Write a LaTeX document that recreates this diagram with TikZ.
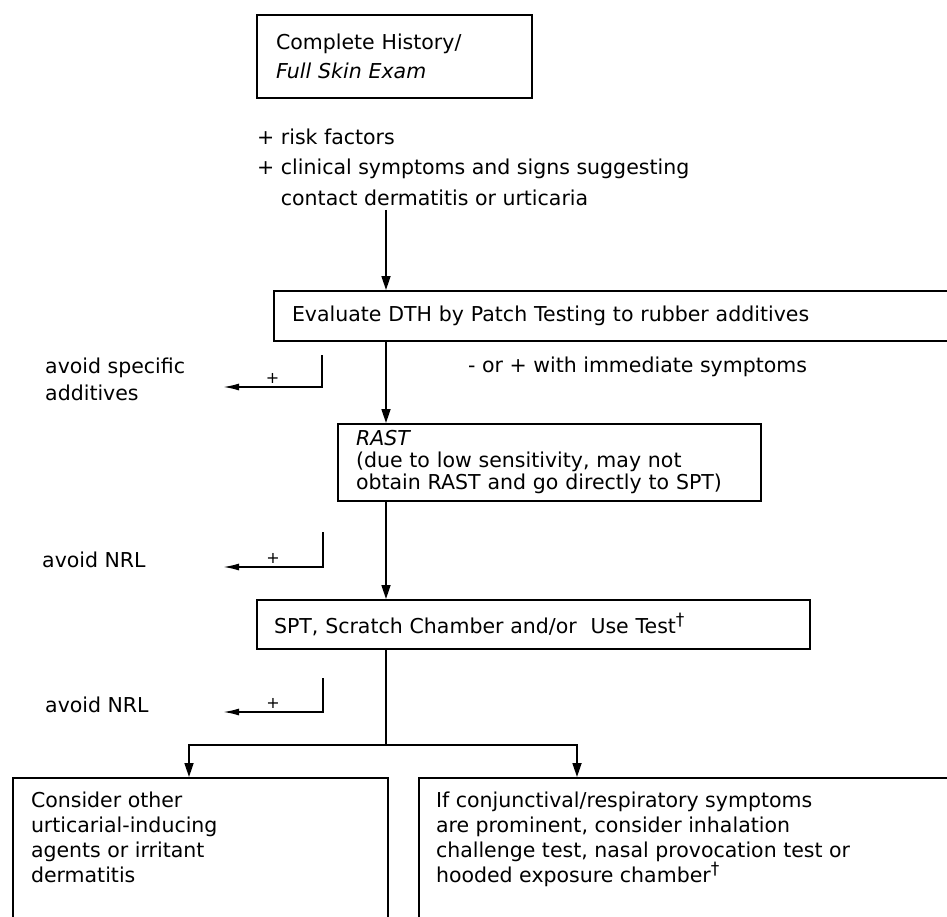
\documentclass[tikz,border=0pt]{standalone}
\usepackage{fontspec}
\setmainfont{DejaVu Sans}
\usetikzlibrary{arrows.meta}
\newcommand\mydag{\raisebox{8pt}{\fontsize{17}{17}\selectfont †}}
\begin{document}
\begin{tikzpicture}[x=1pt,y=-1pt,
  every node/.style={font=\fontsize{20.5}{25}\selectfont},
  box/.style={draw, line width=2pt, rectangle, anchor=north west, align=left, inner ysep=0pt},
  conn/.style={line width=1.7pt},
  arr/.style={conn, -{Triangle[length=14pt,width=9pt]}},
  larr/.style={conn, -{Latex[length=16pt,width=7pt]}},
  txt/.style={anchor=west, align=left, inner sep=0pt},
  plus/.style={font=\fontsize{16}{16}\selectfont, inner sep=1pt, above=2pt},
]
\useasboundingbox (0,0) rectangle (947,917);

% boxes
\node[box, minimum width=275pt, minimum height=83pt, text width=237pt, inner xsep=19pt,
      font=\fontsize{20.5}{29}\selectfont] (hist) at (256,14)
  {Complete History/\\\textit{Full Skin Exam}};
\node[txt, font=\fontsize{20.5}{30.5}\selectfont] (risk) at (257,167)
  {+ risk factors\\+ clinical symptoms and signs suggesting\\\phantom{+ }contact dermatitis or urticaria};
\node[box, minimum width=727pt, minimum height=50pt, text width=691pt, inner xsep=18pt] (dth) at (273,290)
  {Evaluate DTH by Patch Testing to rubber additives};
\node[box, minimum width=423pt, minimum height=77pt, text width=387pt, inner xsep=18pt,
      font=\fontsize{20.5}{22}\selectfont] (rast) at (337,423)
  {\textit{RAST}\\(due to low sensitivity, may not\\obtain RAST and go directly to SPT)};
\node[box, minimum width=553pt, minimum height=49pt, text width=519pt, inner xsep=17pt] (spt) at (256,599)
  {SPT, Scratch Chamber and/or\ \ Use Test\mydag};
\node[box, inner xsep=18pt, inner ysep=12pt] (lbox) at (12,777)
  {\parbox[c][170pt][t]{339pt}{\strut Consider other\\urticarial-inducing\\agents or irritant\\dermatitis}};
\node[box, inner xsep=17pt, inner ysep=12pt] (rbox) at (418,777)
  {\parbox[c][170pt][t]{560pt}{\strut If conjunctival/respiratory symptoms\\are prominent, consider inhalation\\challenge test, nasal provocation test or\\hooded exposure chamber\mydag}};

% side texts
\node[txt] (imm) at (468,367) {- or + with immediate symptoms};
\node[txt, font=\fontsize{20.5}{27}\selectfont] (avs) at (45,379) {avoid specific\\additives};
\node[txt] (nrl1) at (42,560) {avoid NRL};
\node[txt] (nrl2) at (45,705) {avoid NRL};

% main flow
\coordinate (mx) at (386,0);
\coordinate (a0) at (386,210);
\draw[arr] (a0) -- (a0 |- dth.north);
\draw[arr] (mx |- dth.south) -- (mx |- rast.north);
\draw[arr] (mx |- rast.south) -- (mx |- spt.north);
\coordinate (br) at (386,745);
\coordinate (lx) at (189,0);
\coordinate (rx) at (577,0);
\draw[conn] (mx |- spt.south) -- (br);
\draw[arr] (br) -| (lx |- lbox.north);
\draw[arr] (br) -| (rx |- rbox.north);

% side brackets
\coordinate (b1s) at (322,355); \coordinate (b1e) at (223,387);
\draw[larr] (b1s) |- (b1e) node[plus, pos=0.75] (p1) {+};
\coordinate (b2s) at (323,532); \coordinate (b2e) at (223,567);
\draw[larr] (b2s) |- (b2e) node[plus, pos=0.75] (p2) {+};
\coordinate (b3s) at (323,678); \coordinate (b3e) at (223,712);
\draw[larr] (b3s) |- (b3e) node[plus, pos=0.75] (p3) {+};
\end{tikzpicture}
\end{document}
